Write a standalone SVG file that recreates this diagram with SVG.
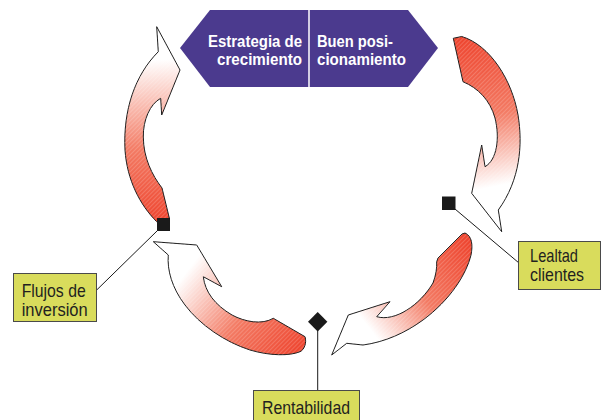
<svg xmlns="http://www.w3.org/2000/svg" width="601" height="420" viewBox="0 0 601 420">
<style>
.arrow{stroke:#1a1a1a;stroke-width:1;stroke-linejoin:miter}
.hatch{fill:url(#hatch);stroke:none}
.banner{fill:#4b3a8e}
.btext{font-family:"Liberation Sans",Arial,sans-serif;font-weight:bold;font-size:17px;fill:#ffffff}
.box{fill:#d9dc5c;stroke:#4a4a4a;stroke-width:1}
.ltext{font-family:"Liberation Sans",Arial,sans-serif;font-size:18.5px;fill:#231f20}
.lead{stroke:#1a1a1a;stroke-width:1;fill:none}
.mark{fill:#1a1a1a}
</style>
<defs>
<pattern id="hatch" width="3" height="3" patternUnits="userSpaceOnUse" patternTransform="rotate(45)">
<rect x="0" y="0" width="1" height="3" fill="#ffffff" opacity="0.18"/>
</pattern>
<linearGradient id="g1" gradientUnits="userSpaceOnUse" x1="160" y1="222" x2="152" y2="60">
<stop offset="0" stop-color="#ee4630"/><stop offset="0.45" stop-color="#f37a63"/><stop offset="1" stop-color="#ffffff"/>
</linearGradient>
<linearGradient id="g2" gradientUnits="userSpaceOnUse" x1="460" y1="40" x2="492" y2="195">
<stop offset="0" stop-color="#ee4630"/><stop offset="0.5" stop-color="#f37a63"/><stop offset="0.95" stop-color="#ffffff"/>
</linearGradient>
<linearGradient id="g3" gradientUnits="userSpaceOnUse" x1="470" y1="245" x2="362" y2="330">
<stop offset="0" stop-color="#ee4630"/><stop offset="0.5" stop-color="#f37a63"/><stop offset="0.95" stop-color="#ffffff"/>
</linearGradient>
<linearGradient id="g4" gradientUnits="userSpaceOnUse" x1="300" y1="350" x2="185" y2="262">
<stop offset="0" stop-color="#ee4630"/><stop offset="0.45" stop-color="#f37a63"/><stop offset="0.95" stop-color="#ffffff"/>
</linearGradient>
</defs>

<g id="banner">
<polygon class="banner" points="180,48 210,10 408,10 438,48 408,87 210,87"/>
<line x1="309" y1="10" x2="309" y2="87" stroke="#ffffff" stroke-width="1.5"/>
<text class="btext" x="208" y="47" textLength="94" lengthAdjust="spacingAndGlyphs">Estrategia de</text>
<text class="btext" x="217" y="65" textLength="85" lengthAdjust="spacingAndGlyphs">crecimiento</text>
<text class="btext" x="317" y="47" textLength="76" lengthAdjust="spacingAndGlyphs">Buen posi-</text>
<text class="btext" x="317" y="65" textLength="89" lengthAdjust="spacingAndGlyphs">cionamiento</text>
</g>

<g id="connectors">
<g id="arrow-left">
<path class="arrow" fill="url(#g1)" d="M156.7,26.7 L180,70 L161.7,115 L160.7,98.3 C150,104 143,120 143.3,137 C143.5,158 152,175 162,188 L169.3,218 L156.7,221.7 C140,205 127,180 125,150 C123,110 135,75 158.3,51.7 Z"/>
<path class="hatch" d="M156.7,26.7 L180,70 L161.7,115 L160.7,98.3 C150,104 143,120 143.3,137 C143.5,158 152,175 162,188 L169.3,218 L156.7,221.7 C140,205 127,180 125,150 C123,110 135,75 158.3,51.7 Z"/>
</g>
<g id="arrow-right">
<path class="arrow" fill="url(#g2)" d="M453.3,38.3 L461.7,36.5 C490,45 512,80 518,115 C523,145 520,180 498.3,210 L501.7,231.7 L471.7,193.3 L481.7,145 L485,166.7 C497,160 500,138 495,118 C490,100 478,88 463,81.7 Z"/>
<path class="hatch" d="M453.3,38.3 L461.7,36.5 C490,45 512,80 518,115 C523,145 520,180 498.3,210 L501.7,231.7 L471.7,193.3 L481.7,145 L485,166.7 C497,160 500,138 495,118 C490,100 478,88 463,81.7 Z"/>
</g>
<g id="arrow-bottom-right">
<path class="arrow" fill="url(#g3)" d="M465,233 C472,236 473,245 471,255 C466,275 450,300 423,320 C405,333 385,342 363,345 L346.7,343.3 L331.7,355 L348.3,315 L390,301.7 L376.7,316.7 C395,322 420,305 433,283 C436,275 437,268 436.7,261.7 L438,258 L462,234 Z"/>
<path class="hatch" d="M465,233 C472,236 473,245 471,255 C466,275 450,300 423,320 C405,333 385,342 363,345 L346.7,343.3 L331.7,355 L348.3,315 L390,301.7 L376.7,316.7 C395,322 420,305 433,283 C436,275 437,268 436.7,261.7 L438,258 L462,234 Z"/>
</g>
<g id="arrow-bottom-left">
<path class="arrow" fill="url(#g4)" d="M153.3,241.7 L196.7,245 L221.7,286.7 L203.3,276.7 C205,292 215,305 232,315 C245,322 262,325 273.3,318.3 L305,336.7 C307,343 304,350 300,351.7 C290,356 270,356 250,350 C225,342 200,325 185,305 C172,288 167,270 168.3,255 Z"/>
<path class="hatch" d="M153.3,241.7 L196.7,245 L221.7,286.7 L203.3,276.7 C205,292 215,305 232,315 C245,322 262,325 273.3,318.3 L305,336.7 C307,343 304,350 300,351.7 C290,356 270,356 250,350 C225,342 200,325 185,305 C172,288 167,270 168.3,255 Z"/>
</g>
<line class="lead" x1="157" y1="231" x2="96.7" y2="290"/>
<line class="lead" x1="455" y1="209" x2="519" y2="263"/>
<line class="lead" x1="317.7" y1="330" x2="317.7" y2="390"/>
</g>

<g id="flujos">
<rect class="mark" x="157" y="218" width="13" height="13"/>
<rect class="box" x="13.5" y="273.5" width="83" height="48"/>
<text class="ltext" x="21.7" y="297" textLength="64" lengthAdjust="spacingAndGlyphs">Flujos de</text>
<text class="ltext" x="21.7" y="316" textLength="66" lengthAdjust="spacingAndGlyphs">inversión</text>
</g>

<g id="lealtad">
<rect class="mark" x="442" y="196.5" width="13.5" height="13.5"/>
<rect class="box" x="518.5" y="241.5" width="82" height="48"/>
<text class="ltext" x="530" y="262" textLength="48" lengthAdjust="spacingAndGlyphs">Lealtad</text>
<text class="ltext" x="530" y="281" textLength="54" lengthAdjust="spacingAndGlyphs">clientes</text>
</g>

<g id="rentabilidad">
<polygon class="mark" points="317.7,312 327.4,321.7 317.7,331.4 308,321.7"/>
<rect class="box" x="253.5" y="390.5" width="106" height="35"/>
<text class="ltext" x="262" y="413.5" textLength="88" lengthAdjust="spacingAndGlyphs">Rentabilidad</text>
</g>
</svg>
